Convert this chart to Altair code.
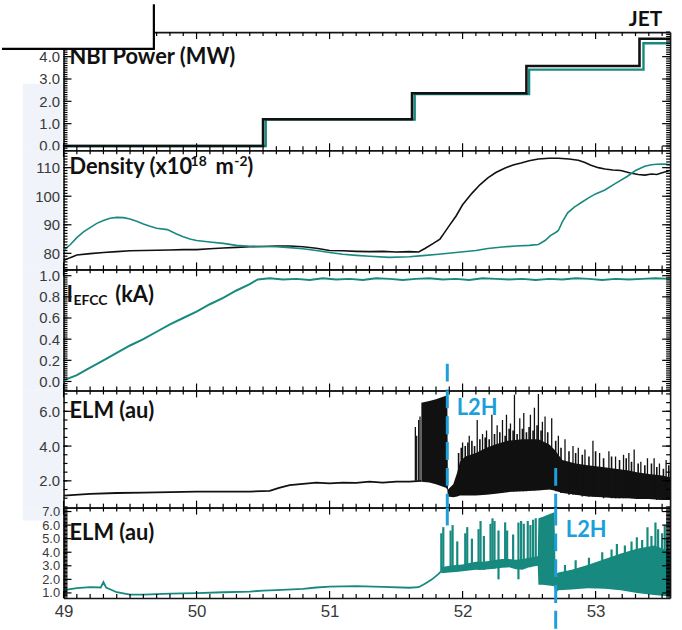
import altair as alt
import pandas as pd
import numpy as np

W = 611
HEIGHTS = [119, 120, 122, 118, 91]
XDOM = [49.0, 53.56]

BLACK = "#111111"
TEAL = "#17897f"
BLUE = "#1c9fdb"
LABEL_GREY = "#3a3a3a"

# ---------------- data ----------------
# Panel 1: NBI power (MW), step traces
nbi_t_black = [49.0, 50.50, 51.62, 52.48, 53.33, 53.56]
nbi_black = [0.0, 1.20, 2.36, 3.58, 4.80, 4.80]
nbi_t_teal = [49.0, 50.52, 51.64, 52.50, 53.36, 53.56]
nbi_teal = [0.0, 1.18, 2.32, 3.42, 4.60, 4.60]

# Panel 2: density
dens_t_black = [49.00, 49.05, 49.10, 49.20, 49.30, 49.40, 49.50, 49.60, 49.70, 49.80, 49.90,
                50.00, 50.10, 50.20, 50.30, 50.40, 50.50, 50.60, 50.70, 50.80, 50.90, 51.00,
                51.10, 51.20, 51.30, 51.40, 51.50, 51.60, 51.67, 51.72, 51.78, 51.83, 51.86,
                51.90, 51.95, 52.00, 52.07, 52.13, 52.19, 52.25, 52.32, 52.38, 52.44, 52.50,
                52.57, 52.65, 52.72, 52.80, 52.87, 52.92, 52.96, 53.02, 53.07, 53.13, 53.19,
                53.26, 53.32, 53.37, 53.42, 53.46, 53.50, 53.56]
dens_black = [77.5, 78.5, 79.4, 79.9, 80.3, 80.6, 80.9, 81.0, 81.1, 81.2, 81.3,
              81.3, 81.6, 81.9, 82.1, 82.3, 82.4, 82.6, 82.6, 82.3, 81.8, 81.0,
              80.9, 80.7, 80.6, 80.7, 80.5, 80.6, 80.5, 81.8, 83.5, 85.0, 87.0,
              89.7, 93.0, 97.0, 101.0, 104.0, 106.4, 108.3, 109.9, 110.9, 111.6, 112.4,
              113.0, 113.3, 113.3, 113.0, 112.6, 111.8, 110.9, 110.0, 109.5, 109.2, 109.0,
              108.1, 107.6, 107.4, 107.8, 107.6, 108.2, 109.0]
dens_t_teal = [49.00, 49.05, 49.10, 49.15, 49.20, 49.25, 49.30, 49.35, 49.40, 49.45, 49.50,
               49.55, 49.60, 49.65, 49.70, 49.78, 49.85, 49.90, 49.95, 50.00, 50.10, 50.20,
               50.30, 50.40, 50.50, 50.60, 50.70, 50.80, 50.90, 51.00, 51.10, 51.20, 51.30,
               51.45, 51.60, 51.70, 51.82, 51.95, 52.10, 52.19, 52.30, 52.40, 52.50, 52.57,
               52.62, 52.66, 52.70, 52.72, 52.75, 52.79, 52.84, 52.89, 52.95, 53.00, 53.07,
               53.15, 53.24, 53.30, 53.37, 53.42, 53.46, 53.52, 53.56]
dens_teal = [81.0, 83.0, 85.5, 87.5, 89.0, 90.5, 91.5, 92.3, 92.6, 92.5, 92.0,
             91.2, 90.3, 89.5, 88.8, 88.3, 86.8, 85.8, 85.0, 84.5, 84.0, 83.5,
             82.8, 82.5, 82.4, 82.3, 82.0, 81.6, 81.0, 80.3, 79.7, 79.3, 79.0,
             78.6, 78.8, 79.2, 79.7, 80.3, 81.0, 81.7, 82.2, 82.6, 82.8, 83.1,
             84.5, 86.2, 87.3, 88.0, 91.0, 94.2, 96.2, 97.7, 99.5, 100.8, 102.2,
             104.5, 107.0, 109.0, 110.5, 111.0, 111.2, 111.3, 111.0]

# Panel 3: I_EFCC (kA)
iefcc_t = [49.00, 49.10, 49.20, 49.30, 49.40, 49.50, 49.60, 49.70, 49.80, 49.90, 50.00,
           50.10, 50.20, 50.30, 50.40, 50.46, 50.55, 50.65, 50.75, 50.85, 50.95, 51.05,
           51.15, 51.25, 51.35, 51.45, 51.55, 51.65, 51.75, 51.85, 51.95, 52.05, 52.15,
           52.25, 52.35, 52.45, 52.55, 52.65, 52.75, 52.85, 52.95, 53.05, 53.15, 53.25,
           53.35, 53.45, 53.56]
iefcc = [0.01, 0.06, 0.13, 0.20, 0.27, 0.34, 0.40, 0.47, 0.54, 0.60, 0.66,
         0.73, 0.79, 0.86, 0.92, 0.965, 0.975, 0.965, 0.970, 0.960, 0.975, 0.965,
         0.970, 0.960, 0.975, 0.970, 0.960, 0.970, 0.975, 0.965, 0.970, 0.960, 0.975,
         0.970, 0.965, 0.970, 0.960, 0.970, 0.965, 0.975, 0.970, 0.960, 0.970, 0.965,
         0.970, 0.975, 0.970]

# Panel 4: ELM (black)
elm1_base_t = [49.0, 49.2, 49.4, 49.6, 49.8, 50.0, 50.2, 50.4, 50.55, 50.62, 50.7,
               50.8, 50.9, 51.0, 51.1, 51.2, 51.3, 51.4, 51.5, 51.6, 51.69]
elm1_base = [1.15, 1.25, 1.3, 1.32, 1.35, 1.38, 1.38, 1.38, 1.42, 1.6, 1.75,
             1.82, 1.9, 1.85, 1.9, 1.88, 1.95, 1.9, 1.95, 1.95, 2.0]
elm1_band_t = [51.69, 51.75, 51.80, 51.875, 51.885, 51.89, 51.93, 51.96, 51.98, 52.02,
               52.10, 52.18, 52.25, 52.34, 52.45, 52.57, 52.65, 52.69, 52.75, 52.85,
               52.94, 53.05, 53.15, 53.25, 53.31, 53.40, 53.50, 53.56]
elm1_band_lo = [1.95, 1.9, 1.8, 1.6, 1.5, 1.1, 1.05, 1.1, 1.15, 1.15,
                1.15, 1.2, 1.25, 1.35, 1.4, 1.45, 1.5, 1.45, 1.3, 1.2,
                1.1, 1.05, 1.0, 1.0, 0.95, 0.95, 0.9, 0.9]
elm1_band_hi = [6.5, 6.6, 6.7, 6.9, 6.9, 1.5, 1.8, 2.5, 3.1, 3.4,
                3.6, 3.9, 4.1, 4.3, 4.4, 4.4, 4.1, 3.8, 3.2, 3.0,
                2.9, 2.8, 2.7, 2.6, 2.5, 2.4, 2.3, 2.2]
elm1_spk_t = [51.645, 51.655, 51.67, 51.68, 52.00, 52.05, 52.11, 52.15, 52.18, 52.22,
              52.26, 52.30, 52.33, 52.36, 52.39, 52.43, 52.46, 52.51, 52.54, 52.57,
              52.60, 52.62, 52.67, 52.72, 52.77, 52.83, 52.87, 52.92, 52.98, 53.03,
              53.10, 53.15, 53.21, 53.25, 53.29, 53.34, 53.39, 53.44, 53.48, 53.53]
elm1_spk_top = [5.1, 4.6, 5.5, 5.7, 4.2, 4.6, 5.5, 4.7, 4.9, 5.8,
                5.2, 5.5, 5.8, 5.3, 6.95, 5.6, 5.9, 5.8, 6.2, 7.0,
                5.4, 5.7, 5.6, 4.6, 4.4, 4.0, 3.9, 3.8, 4.3, 3.6,
                3.7, 3.4, 3.5, 3.6, 3.8, 3.1, 3.3, 3.3, 3.0, 3.2]
elm1_spk_bot = [2.0, 2.0, 2.0, 2.0, 1.2, 1.2, 1.2, 1.2, 1.3, 1.3,
                1.3, 1.3, 1.4, 1.4, 1.4, 1.4, 1.4, 1.45, 1.45, 1.5,
                1.5, 1.5, 1.5, 1.4, 1.3, 1.2, 1.2, 1.2, 1.1, 1.1,
                1.1, 1.0, 1.0, 1.0, 1.0, 1.0, 1.0, 0.95, 0.9, 0.9]
elm1_mid_t = [51.97, 51.99, 52.02, 52.04, 52.07, 52.09, 52.13, 52.17, 52.20, 52.24,
              52.28, 52.32, 52.35, 52.38, 52.41, 52.45, 52.48, 52.50, 52.53, 52.56,
              52.59, 52.64, 52.70, 52.74, 52.80, 52.85, 52.90, 52.95, 53.00, 53.06,
              53.12, 53.18, 53.23, 53.27, 53.32, 53.37, 53.42, 53.46, 53.51, 53.55]
elm1_mid_top = [3.6, 3.9, 4.0, 4.2, 4.3, 4.0, 4.4, 4.5, 4.4, 4.7,
                4.8, 4.6, 5.0, 4.9, 4.7, 5.0, 4.8, 5.1, 4.9, 5.2,
                4.9, 4.8, 4.3, 3.9, 3.7, 3.6, 3.5, 3.4, 3.7, 3.3,
                3.4, 3.2, 3.3, 3.1, 3.0, 2.9, 3.0, 2.8, 2.7, 2.9]
elm1_mid_bot = [1.2, 1.2, 1.2, 1.2, 1.2, 1.2, 1.3, 1.3, 1.3, 1.3,
                1.3, 1.4, 1.4, 1.4, 1.4, 1.4, 1.4, 1.5, 1.5, 1.5,
                1.5, 1.5, 1.4, 1.3, 1.2, 1.2, 1.1, 1.1, 1.1, 1.0,
                1.0, 1.0, 1.0, 1.0, 1.0, 0.95, 0.95, 0.9, 0.9, 0.9]

# Panel 5: ELM (teal)
elm2_base_t = [49.0, 49.1, 49.2, 49.28, 49.3, 49.32, 49.4, 49.5, 49.6, 49.8, 50.0,
               50.2, 50.4, 50.5, 50.6, 50.8, 50.9, 51.0, 51.2, 51.4, 51.6, 51.67,
               51.72, 51.77, 51.82, 51.84]
elm2_base = [1.2, 1.35, 1.42, 1.4, 1.8, 1.4, 1.05, 0.88, 0.87, 0.95, 0.98,
             1.05, 1.1, 1.17, 1.2, 1.3, 1.4, 1.46, 1.5, 1.45, 1.38, 1.42,
             1.7, 2.0, 2.4, 2.6]
elm2_band_t = [51.84, 51.90, 51.95, 52.00, 52.05, 52.10, 52.15, 52.20, 52.25, 52.30,
               52.35, 52.40, 52.45, 52.50, 52.565, 52.57, 52.60, 52.65, 52.69, 52.70,
               52.72, 52.82, 52.94, 53.07, 53.19, 53.31, 53.44, 53.50, 53.56]
elm2_band_lo = [2.45, 2.5, 2.55, 2.6, 2.65, 2.7, 2.7, 2.75, 2.8, 2.85,
                2.9, 2.75, 2.7, 2.9, 3.0, 1.6, 1.6, 1.55, 1.5, 1.0,
                1.2, 1.25, 1.35, 1.3, 1.2, 1.0, 0.85, 0.8, 0.75]
elm2_band_hi = [2.9, 3.0, 3.05, 3.1, 3.2, 3.3, 3.3, 3.35, 3.45, 3.5,
                3.5, 3.45, 3.5, 3.6, 3.7, 6.5, 6.6, 6.8, 6.95, 2.4,
                2.5, 2.7, 3.05, 3.5, 3.9, 4.25, 4.5, 4.3, 4.0]
elm2_spk_t = [51.84, 51.855, 51.91, 51.925, 51.96, 52.02, 52.035, 52.07, 52.12, 52.135,
              52.16, 52.21, 52.225, 52.24, 52.27, 52.32, 52.335, 52.38, 52.42, 52.44,
              52.46, 52.49, 52.51, 52.53, 52.55, 52.77, 52.85, 52.95, 53.05, 53.12,
              53.16, 53.22, 53.27, 53.31, 53.35, 53.39, 53.42, 53.45, 53.47, 53.50,
              53.52, 53.54]
elm2_spk_top = [5.4, 5.85, 5.6, 6.0, 4.8, 5.4, 5.85, 5.0, 5.7, 6.3,
                5.2, 6.1, 6.5, 6.3, 5.6, 6.2, 5.6, 5.3, 6.2, 6.3,
                6.1, 6.3, 6.0, 6.4, 6.5, 3.05, 3.4, 3.6, 4.0, 4.2,
                4.6, 4.5, 4.8, 5.1, 4.9, 5.85, 5.2, 6.2, 5.7, 5.4,
                6.0, 5.0]
elm2_spk_bot = [2.6, 2.6, 2.6, 2.6, 2.6, 2.7, 2.7, 2.7, 2.7, 2.7,
                2.7, 2.8, 2.8, 2.8, 2.0, 2.9, 2.9, 2.9, 2.0, 2.8,
                2.9, 3.0, 2.9, 3.0, 3.0, 1.5, 1.5, 1.6, 1.6, 1.6,
                1.6, 1.5, 1.5, 1.5, 1.4, 1.4, 1.4, 1.3, 1.3, 1.3,
                1.2, 1.2]

lh_times = [51.885, 52.70]

# axis tick labels
x_tick_labels = [49, 50, 51, 52, 53]

# ---------------- helpers ----------------
XS = alt.Scale(domain=XDOM, nice=False, zero=False)
DX = (XDOM[1] - XDOM[0]) / W  # data units per pixel along x


def yscale(dom):
    return alt.Scale(domain=dom, nice=False, zero=False)


def ticks_between(a, b, step):
    n = int(np.floor((b - a) / step + 1e-9))
    return [round(a + i * step, 4) for i in range(n + 1)]


def tick_layer(ydom, H, yv):
    """Inward ticks of one panel drawn as short two-point line segments."""
    ys = yscale(ydom)
    xminor = ticks_between(49.0, 53.5, 0.1)
    dy_per_px = (ydom[1] - ydom[0]) / H
    rows = []
    k = 0
    for v in xminor:
        L = 7 if abs(v - round(v)) < 1e-6 else 4
        for y0, y1 in [(ydom[0], ydom[0] + L * dy_per_px), (ydom[1], ydom[1] - L * dy_per_px)]:
            rows.append((k, 0, v, y0))
            rows.append((k, 1, v, y1))
            k += 1
    for v, major in yv:
        L = 8 if major else 4
        for x0, x1 in [(XDOM[0], XDOM[0] + L * DX), (XDOM[1], XDOM[1] - L * DX)]:
            rows.append((k, 0, x0, v))
            rows.append((k, 1, x1, v))
            k += 1
    df = pd.DataFrame(rows, columns=["id", "o", "tx", "ty"])
    return alt.Chart(df).mark_line(color="#000000", strokeWidth=1.2).encode(
        x=alt.X("tx:Q", scale=XS, axis=None), y=alt.Y("ty:Q", scale=ys, axis=None),
        detail="id:N", order="o:Q")


def frame_layers(H, ydom, ymaj, ymin_start, ymin_step, fmt, lsize, xlabels):
    frame = pd.DataFrame({"fx": XDOM, "fy": ydom})
    ys = yscale(ydom)
    yminor = [v for v in ticks_between(ymin_start, ydom[1], ymin_step) if ydom[0] <= v <= ydom[1]]
    ymajor_ticks = [v for v in ymaj if ydom[0] <= v <= ydom[1]]
    yv = [(v, False) for v in yminor] + [(v, True) for v in ymajor_ticks]
    edge = dict(labels=False, ticks=False, grid=False, title=None, domain=True,
                domainColor="#151515", domainWidth=1.6)

    lab_y = alt.Axis(orient="left", values=ymaj, format=fmt, ticks=False, tickSize=0,
                     domain=False, grid=False, title=None, labelFont="Liberation Sans",
                     labelFontSize=lsize, labelColor=LABEL_GREY, labelPadding=4,
                     labelOverlap=False, zindex=1)
    if xlabels:
        lab_x = alt.Axis(orient="bottom", values=x_tick_labels, format="d", ticks=False,
                         tickSize=0, domain=False, grid=False, title=None,
                         labelFont="Liberation Sans", labelFontSize=17, labelColor=LABEL_GREY,
                         labelPadding=6, labelFlush=False, labelOverlap=False, zindex=1)
    else:
        lab_x = None

    def fl(xa, ya):
        return alt.Chart(frame).mark_point(opacity=0).encode(
            x=alt.X("fx:Q", scale=XS, axis=xa), y=alt.Y("fy:Q", scale=ys, axis=ya))

    layers = [
        fl(lab_x, lab_y),
        fl(alt.Axis(orient="top", offset=-H, **edge), alt.Axis(orient="right", offset=-W, **edge)),
        fl(alt.Axis(orient="bottom", offset=-H, **edge), alt.Axis(orient="left", offset=-W, **edge)),
    ]
    return layers, [tick_layer(ydom, H, yv)]


def line(t, v, ydom, color, width, interp="linear"):
    df = pd.DataFrame({"t": t, "v": v})
    return alt.Chart(df).mark_line(color=color, strokeWidth=width, interpolate=interp,
                                   clip=True).encode(
        x=alt.X("t:Q", scale=XS, axis=None), y=alt.Y("v:Q", scale=yscale(ydom), axis=None))


def band(t, lo, hi, ydom, color):
    df = pd.DataFrame({"t": t, "lo": lo, "hi": hi})
    return alt.Chart(df).mark_area(color=color, opacity=1, clip=True).encode(
        x=alt.X("t:Q", scale=XS, axis=None), y=alt.Y("lo:Q", scale=yscale(ydom), axis=None),
        y2="hi:Q")


def spikes(t, bot, top, ydom, color, width=1.3):
    df = pd.DataFrame({"t": t, "b": bot, "h": top})
    return alt.Chart(df).mark_rule(color=color, strokeWidth=width, clip=True).encode(
        x=alt.X("t:Q", scale=XS, axis=None), y=alt.Y("b:Q", scale=yscale(ydom), axis=None),
        y2="h:Q")


def txt(s, x, y, size, color=BLACK, align="left", baseline="alphabetic", font="Lato",
        weight="bold"):
    return alt.Chart(pd.DataFrame({"s": [s]})).mark_text(
        align=align, baseline=baseline, font=font, fontSize=size, fontWeight=weight,
        color=color).encode(x=alt.value(x), y=alt.value(y), text="s:N")


def lh_rule(t, y1, y2):
    return alt.Chart(pd.DataFrame({"t": [t]})).mark_rule(
        color=BLUE, strokeWidth=3, strokeDash=[18, 8]).encode(
        x=alt.X("t:Q", scale=XS, axis=None), y=alt.value(y1), y2=alt.value(y2))


def bgstrip(y1, y2):
    return alt.Chart(pd.DataFrame({"a": [0]})).mark_rect(color="#f0f3f9").encode(
        x=alt.value(-41), x2=alt.value(-2), y=alt.value(y1), y2=alt.value(y2))


def panel(H, frame, data_layers, front):
    layers, ticks = frame
    return alt.layer(*(layers + data_layers + ticks + front)).resolve_axis(
        x="independent", y="independent").properties(width=W, height=H)


one = pd.DataFrame({"a": [0]})

# ---------------- panels ----------------
H1, H2, H3, H4, H5 = HEIGHTS

D1 = [-0.19, 5.1]
p1 = panel(H1, frame_layers(H1, D1, [0, 1, 2, 3, 4], -0.1, 0.1, ".1f", 15, False), [
    bgstrip(52, H1),
    line(nbi_t_teal, nbi_teal, D1, TEAL, 2.4, "step-after"),
    line(nbi_t_black, nbi_black, D1, BLACK, 2.6, "step-after"),
], [
    txt("NBI Power (MW)", 6, 32.5, 22),
    txt("JET", 603, -6, 21, align="right"),
    alt.Chart(one).mark_rect(color="white").encode(
        x=alt.value(-62), x2=alt.value(91), y=alt.value(-28), y2=alt.value(17)),
    alt.Chart(one).mark_rule(color="black", strokeWidth=2.2).encode(
        x=alt.value(91), y=alt.value(-28), y2=alt.value(17)),
    alt.Chart(one).mark_rule(color="black", strokeWidth=2.2).encode(
        x=alt.value(-62), x2=alt.value(92), y=alt.value(17)),
])

D2 = [74.4, 116.1]
p2 = panel(H2, frame_layers(H2, D2, [80, 90, 100, 110], 75, 1, "d", 15, False), [
    bgstrip(0, H2),
    line(dens_t_black, dens_black, D2, BLACK, 1.6),
    line(dens_t_teal, dens_teal, D2, TEAL, 1.6),
], [
    txt("Density (x10", 6, 23.5, 22),
    txt("18", 128, 15.5, 14),
    txt("m", 153, 23.5, 22),
    txt("-2", 172, 15.5, 14),
    txt(")", 185, 23.5, 22),
])

D3 = [-0.085, 1.06]
p3 = panel(H3, frame_layers(H3, D3, [0, 0.2, 0.4, 0.6, 0.8, 1.0], -0.08, 0.02, ".1f", 15, False), [
    bgstrip(0, H3),
    line(iefcc_t, iefcc, D3, TEAL, 2.0),
], [
    txt("I", 3, 33, 22),
    txt("EFCC", 10, 36, 14),
    txt("(kA)", 52, 33, 22),
    lh_rule(lh_times[0], 95, H3),
])

D4 = [0.46, 7.2]
p4 = panel(H4, frame_layers(H4, D4, [2, 4, 6], 0.5, 0.5, ".1f", 15, False), [
    bgstrip(0, H4),
    line(elm1_base_t, elm1_base, D4, BLACK, 1.8),
    band(elm1_band_t, elm1_band_lo, elm1_band_hi, D4, BLACK),
    spikes(elm1_mid_t, elm1_mid_bot, elm1_mid_top, D4, BLACK, 1.6),
    spikes(elm1_spk_t, elm1_spk_bot, elm1_spk_top, D4, BLACK),
], [
    txt("ELM (au)", 6, 28, 22),
    lh_rule(lh_times[0], 0, H4),
    lh_rule(lh_times[1], 78, H4),
    txt("L2H", 396, 25, 22, color=BLUE),
])

D5 = [0.63, 7.29]
p5 = panel(H5, frame_layers(H5, D5, [1, 2, 3, 4, 5, 6, 7], 0.7, 0.1, ".1f", 13, True), [
    bgstrip(0, 13),
    line(elm2_base_t, elm2_base, D5, TEAL, 1.8),
    band(elm2_band_t, elm2_band_lo, elm2_band_hi, D5, TEAL),
    spikes(elm2_spk_t, elm2_spk_bot, elm2_spk_top, D5, TEAL, 2.2),
], [
    txt("ELM (au)", 6, 33, 22),
    lh_rule(lh_times[0], 0, 25),
    lh_rule(lh_times[1], 0, H5 + 32),
    txt("L2H", 506, 30, 22, color=BLUE),
])

chart = alt.vconcat(p1, p2, p3, p4, p5, spacing=0, bounds="flush").resolve_scale(
    x="independent", y="independent").properties(
    padding={"left": 0, "top": 0, "right": 9, "bottom": 0},
    background="white",
).configure_view(stroke=None)

chart.save("out.html", embed_options={"renderer": "svg", "actions": False})
